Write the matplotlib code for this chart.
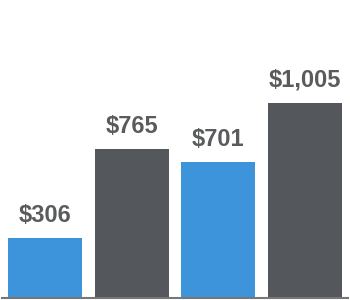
import matplotlib
matplotlib.use("Agg")
import matplotlib.pyplot as plt

categories = ["A", "B", "C", "D"]
values = [306, 765, 701, 1005]
labels = ["$306", "$765", "$701", "$1,005"]
colors = ["#3d94db", "#54575c", "#3d94db", "#54575c"]

fig = plt.figure(figsize=(3.5, 3), dpi=100)
ax = fig.add_axes([2 / 350, 2 / 300, 346 / 350, 296 / 300])
x = range(len(values))
bars = ax.bar(x, values, width=0.85, color=colors)
for b, lab in zip(bars, labels):
    ax.annotate(lab, (b.get_x() + b.get_width() / 2, b.get_height()),
                xytext=(0, 8), textcoords="offset points", ha="center", va="bottom",
                fontsize=17, fontweight="bold", color="#5a5b5d", family="Liberation Sans")

ax.set_xlim(-0.5, len(values) - 0.5)
ax.set_ylim(0, 1522)
for s in ["top", "right", "left"]:
    ax.spines[s].set_visible(False)
ax.spines["bottom"].set_color("#777777")
ax.spines["bottom"].set_linewidth(1.5)
ax.set_xticks([])
ax.set_yticks([])
fig.savefig("out.png", dpi=100)
